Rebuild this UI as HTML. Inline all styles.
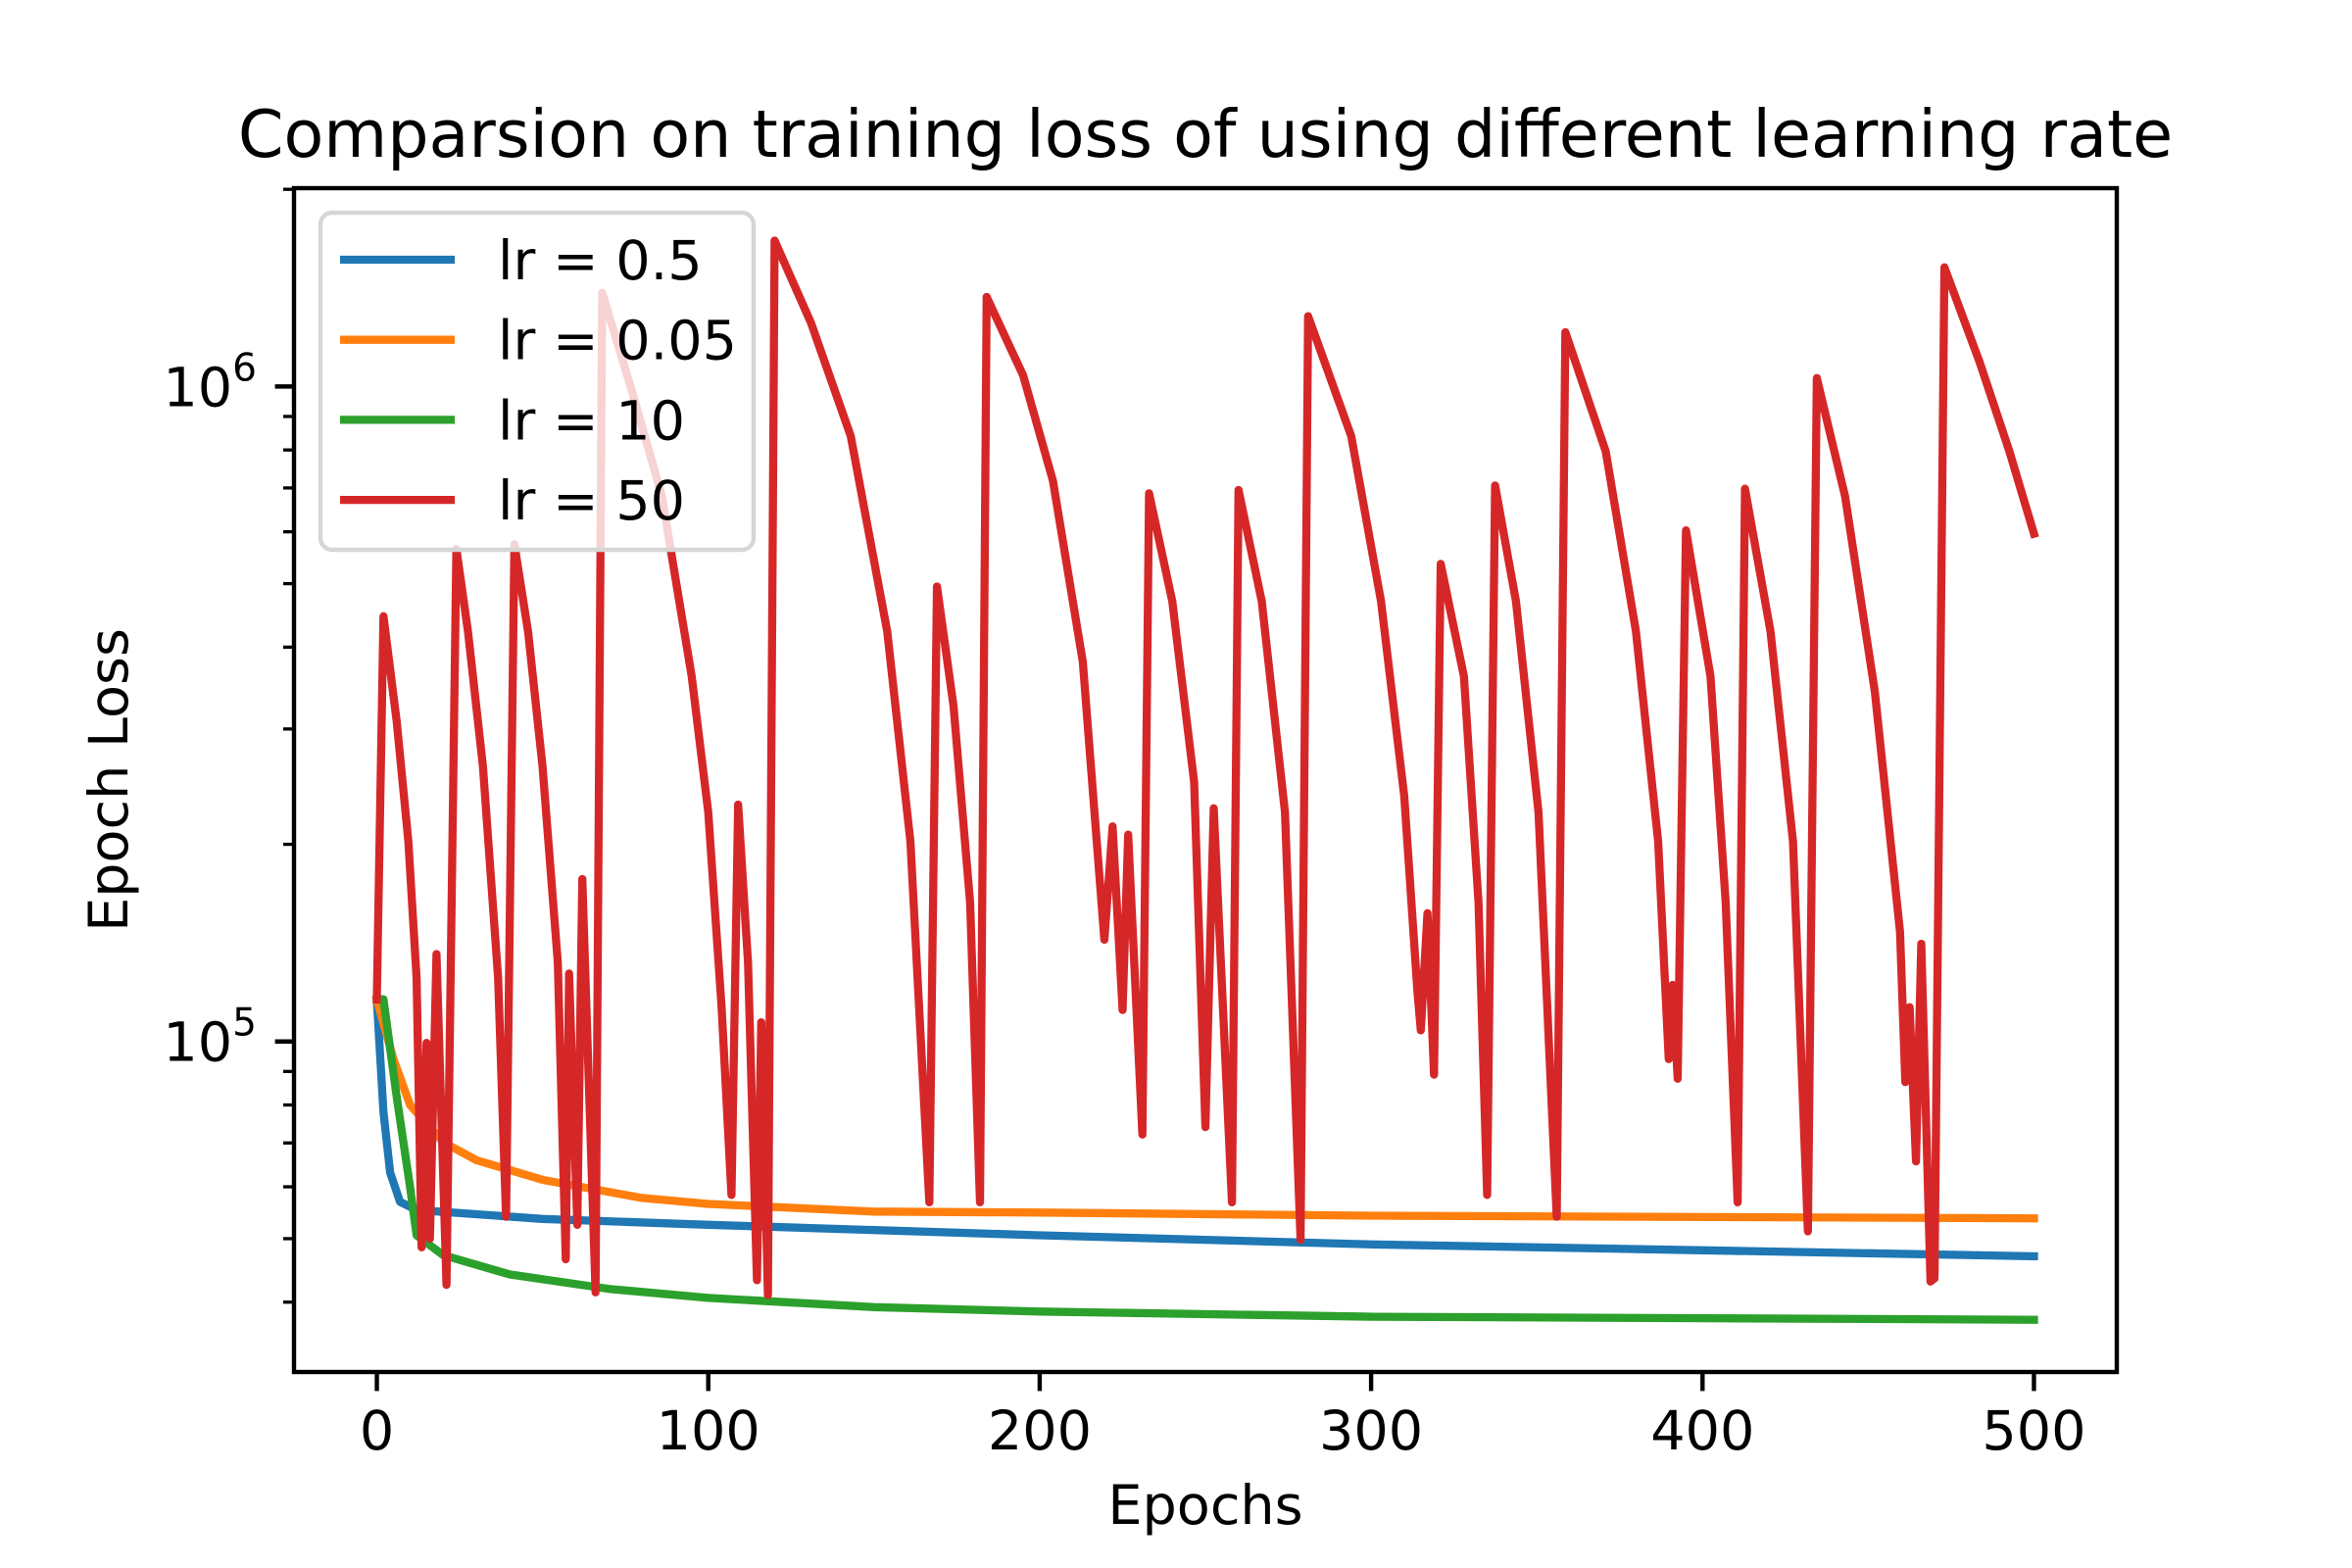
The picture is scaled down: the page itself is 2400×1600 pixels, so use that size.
<!DOCTYPE html>
<html><head><meta charset="utf-8"><style>
html,body{margin:0;padding:0;background:#fff}
svg{display:block;font-family:"DejaVu Sans","Liberation Sans",sans-serif}
</style></head><body>
<svg id="chart" width="2400" height="1600" viewBox="0 0 2400 1600" xmlns="http://www.w3.org/2000/svg">
<rect width="2400" height="1600" fill="#fff"/>
<text x="1230" y="160" font-size="66.7" text-anchor="middle">Comparsion on training loss of using different learning rate</text>
<g id="plot"></g>
<g id="axes"></g>
<text x="1230" y="1555" font-size="55.6" text-anchor="middle">Epochs</text>
<text transform="translate(130,796) rotate(-90)" font-size="55.6" text-anchor="middle">Epoch Loss</text>
<g id="legend"></g>
</svg>
<script>
const xTicks=[0,100,200,300,400,500];
const yMajor=[5,6];
const seriesNames=["lr = 0.5","lr = 0.05","lr = 10","lr = 50"];
const seriesColors=["#1f77b4","#ff7f0e","#2ca02c","#d62728"];
const blueE=[0,2,4,7,12,50,100,200,300,400,500];
const blueV=[115900,78000,63100,56900,55300,53600,52500,50600,49000,48000,47000];
const orangeE=[0,5,10,20,30,50,80,100,150,200,300,500];
const orangeV=[115900,94000,80000,70200,65900,61500,57700,56500,55000,54800,54200,53700];
const greenE=[0,2,6,10,12,20,40,70,100,150,200,300,400,500];
const greenV=[115900,116000,82300,60000,50600,47200,44100,41900,40600,39300,38700,38000,37800,37600];
const redE=[0,2,6,9.5,12,13.5,15,16,18,21,24,27.5,32,36.6,39,41.5,45.6,50,54.6,57,58,60.5,62,66,68,77,86,95,100,104,107,109,112,114.7,116,118,120,131,143,154,161,166.7,169,174,179,182,184,195,204,213,219.5,222,225,226.7,231,233,240,246.6,250,252.5,258,260,267,274,278.7,281,294,303,310,314,315,317,319,321,328,332.4,335,337.4,343.7,350.5,356,358.6,370.8,379.9,386.6,389.8,391,392.5,395,402.4,407,410.6,412.8,420.5,427.3,431.8,434.5,443,452,459.6,461.2,462.5,464.4,466,468.8,470,473,483.6,492.6,500];
const redV=[115900,446000,308000,202000,125000,48500,99500,50000,136000,42500,565000,423000,263000,125000,54000,574000,423000,263000,132000,46500,127000,52500,177000,41400,1390000,984000,680000,361000,224000,113000,58300,230000,132000,43200,107000,41000,1670000,1250000,840000,423000,202000,56800,495000,325000,163000,56800,1370000,1040000,718000,380000,143000,213000,111700,207000,72100,687000,470000,249000,74000,227000,56800,695000,470000,224000,49800,1280000,840000,470000,237000,119000,104000,157000,89000,536000,361000,163000,58300,706000,470000,224000,54000,1210000,796000,423000,202000,94000,122000,87700,603000,361000,163000,56800,698000,423000,202000,51300,1030000,680000,342000,147000,86700,112800,65600,141000,43000,43500,1520000,1090000,796000,596000];

const L=300,R=2160,T=192,B=1400;
const xMin=-25,xMax=525,yLogMin=4.4954,yLogMax=6.3028;
function X(e){return L+(e-xMin)/(xMax-xMin)*(R-L);}
function Y(v){return B-(Math.log10(v)-yLogMin)/(yLogMax-yLogMin)*(B-T);}
const NS="http://www.w3.org/2000/svg";
function mk(tag,attrs,parent){const el=document.createElementNS(NS,tag);for(const k in attrs)el.setAttribute(k,attrs[k]);parent.appendChild(el);return el;}
const plot=document.getElementById('plot'),axes=document.getElementById('axes'),legend=document.getElementById('legend');
const cp=mk('clipPath',{id:'clip'},plot);
mk('rect',{x:L,y:T,width:R-L,height:B-T},cp);
const all=[[blueE,blueV],[orangeE,orangeV],[greenE,greenV],[redE,redV]];
const lineNames=['line-lr-0-5','line-lr-0-05','line-lr-10','line-lr-50'];
all.forEach((s,i)=>{
  const d=s[0].map((e,j)=>(j?'L':'M')+X(e).toFixed(1)+','+Y(s[1][j]).toFixed(1)).join(' ');
  const p=mk('path',{d:d,fill:'none',stroke:seriesColors[i],'stroke-width':8.3,'stroke-linejoin':'round','stroke-linecap':'square','clip-path':'url(#clip)'},plot);
  
  
});
const fr=mk('rect',{x:L,y:T,width:R-L,height:B-T,fill:'none',stroke:'#000','stroke-width':4.4},axes);


xTicks.forEach(t=>{
  const x=X(t);
  const tk=mk('line',{x1:x,x2:x,y1:B,y2:B+19.4,stroke:'#000','stroke-width':4.4},axes);
  
  
  const lb=mk('text',{x:x,y:B+79,'font-size':55.6,'text-anchor':'middle'},axes);
  lb.textContent=t;
  
  
});
yMajor.forEach(p=>{
  const y=Y(Math.pow(10,p));
  const tk=mk('line',{x1:L-19.4,x2:L,y1:y,y2:y,stroke:'#000','stroke-width':4.4},axes);
  
  
  const lb=mk('text',{x:L-38,y:y+20,'font-size':55.6,'text-anchor':'end'},axes);
  
  
  const t1=mk('tspan',{},lb);t1.textContent='10';
  const t2=mk('tspan',{'font-size':39,dy:-26},lb);t2.textContent=p;
});
for(let p=4;p<=6;p++)for(let m=2;m<=9;m++){
  const v=m*Math.pow(10,p);const lv=Math.log10(v);
  if(lv<yLogMin||lv>yLogMax+0.001)continue;
  const y=Y(v);
  const tk=mk('line',{x1:L-11,x2:L,y1:y,y2:y,stroke:'#000','stroke-width':3.3},axes);
  
  
}
const lbox=mk('rect',{x:327,y:217,width:442,height:344,rx:12,fill:'#fff','fill-opacity':0.8,stroke:'#d6d6d6','stroke-width':4.4},legend);


const entryNames=['legend-entry-lr-0-5','legend-entry-lr-0-05','legend-entry-lr-10','legend-entry-lr-50'];
seriesNames.forEach((n,i)=>{
  const y=265+i*81.7;
  const g=mk('g',{},legend);
  
  
  mk('line',{x1:347,x2:464,y1:y,y2:y,stroke:seriesColors[i],'stroke-width':8.3},g);
  const t=mk('text',{x:508,y:y+20,'font-size':55.6},g);t.textContent=n;
});
</script>
</body></html>
